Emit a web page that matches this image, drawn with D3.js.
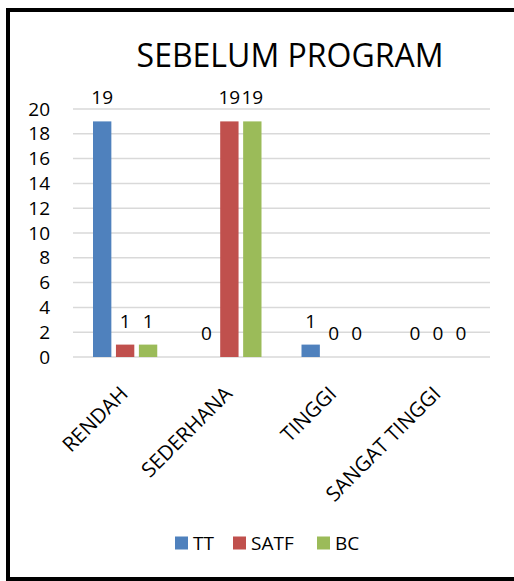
<!DOCTYPE html>
<html>
<head>
<meta charset="utf-8">
<script src="https://cdn.jsdelivr.net/npm/d3@7"></script>
<style>
  html, body { margin: 0; padding: 0; background: #fff; overflow: hidden; }
  svg { display: block; font-family: "Open Sans", "Noto Sans", sans-serif; }
</style>
</head>
<body>
<svg id="chart" width="514" height="581"></svg>
<script>
// Chart data
const title = "SEBELUM PROGRAM";
const categories = ["RENDAH", "SEDERHANA", "TINGGI", "SANGAT TINGGI"];
const seriesNames = ["TT", "SATF", "BC"];
const valuesTT = [19, 0, 1, 0];
const valuesSATF = [1, 19, 0, 0];
const valuesBC = [1, 19, 0, 0];
const yTicks = [0, 2, 4, 6, 8, 10, 12, 14, 16, 18, 20];
const colors = ["#4F81BD", "#C0504D", "#9BBB59"];

const seriesValues = [valuesTT, valuesSATF, valuesBC];
const rows = categories.map((c, i) => ({
  category: c,
  values: seriesNames.map((s, k) => ({ series: s, value: seriesValues[k][i], color: colors[k] }))
}));

const svg = d3.select("#chart");

// Outer frame: top, left and bottom edges
const frame = svg.append("g").attr("stroke", "#000").attr("stroke-width", 4);
frame.append("line").attr("x1", 6).attr("x2", 514).attr("y1", 10).attr("y2", 10);
frame.append("line").attr("x1", 8).attr("x2", 8).attr("y1", 8).attr("y2", 581);
frame.append("line").attr("x1", 6).attr("x2", 514).attr("y1", 579).attr("y2", 579);

const plot = { left: 73, right: 490, top: 109, bottom: 357 };

const x0 = d3.scaleBand().domain(categories).range([plot.left, plot.right]);
const x1 = d3.scaleBand().domain(seriesNames)
  .range([20, x0.bandwidth() - 20]).paddingInner(0.2);
const y = d3.scaleLinear().domain([0, 20]).range([plot.bottom, plot.top]);

// Title
svg.append("text")
  .attr("x", 290).attr("y", 67)
  .attr("text-anchor", "middle")
  .attr("font-size", 32)
  .attr("fill", "#000")
  .text(title);

// Horizontal gridlines
svg.append("g")
  .selectAll("line").data(yTicks).join("line")
  .attr("x1", plot.left).attr("x2", plot.right)
  .attr("y1", d => y(d)).attr("y2", d => y(d))
  .attr("stroke", "#D9D9D9").attr("stroke-width", 1.5);

// Y axis labels
const yAxis = d3.axisLeft(y).tickValues(yTicks).tickSize(0).tickPadding(0);
svg.append("g")
  .attr("transform", `translate(${plot.left - 23},0)`)
  .call(yAxis)
  .call(g => g.select(".domain").remove())
  .call(g => g.selectAll("text")
    .attr("font-size", 19).attr("fill", "#000")
    .attr("font-family", "\"Open Sans\", sans-serif"));

// Bars and value labels
const groups = svg.append("g").selectAll("g").data(rows).join("g")
  .attr("transform", d => `translate(${x0(d.category)},0)`);

groups.selectAll("rect").data(d => d.values).join("rect")
  .attr("x", d => x1(d.series))
  .attr("width", x1.bandwidth())
  .attr("y", d => y(d.value))
  .attr("height", d => y(0) - y(d.value))
  .attr("fill", d => d.color);

groups.selectAll("text").data(d => d.values).join("text")
  .attr("x", d => x1(d.series) + x1.bandwidth() / 2)
  .attr("y", d => y(d.value) - 17)
  .attr("text-anchor", "middle")
  .attr("font-size", 19)
  .attr("fill", "#000")
  .text(d => d.value);

// Category labels, rotated
svg.append("g").selectAll("text").data(categories).join("text")
  .attr("transform", d => `translate(${x0(d) + x0.bandwidth() / 2 - 1},${plot.bottom + 33}) rotate(-45)`)
  .attr("text-anchor", "end")
  .attr("dy", "0.35em")
  .attr("font-size", 20.5)
  .attr("fill", "#000")
  .text(d => d);

// Legend
const legendX = [175, 233, 317];
const legend = svg.append("g").selectAll("g").data(seriesNames).join("g")
  .attr("transform", (d, i) => `translate(${legendX[i]},543)`);
legend.append("rect")
  .attr("x", 0).attr("y", -6.5)
  .attr("width", 13).attr("height", 13)
  .attr("fill", (d, i) => colors[i]);
legend.append("text")
  .attr("x", 18).attr("dy", "0.35em")
  .attr("font-size", 19)
  .attr("fill", "#000")
  .text(d => d);
</script>
</body>
</html>
